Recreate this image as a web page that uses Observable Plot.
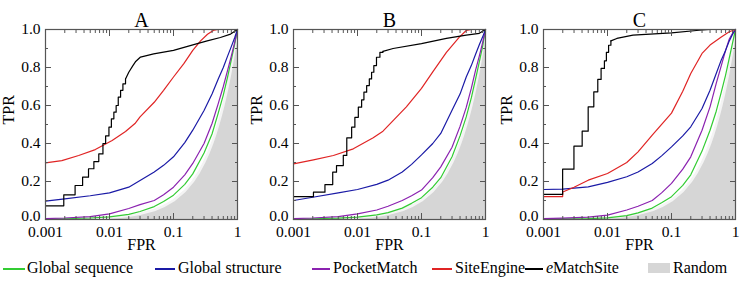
<!DOCTYPE html>
<html><head><meta charset="utf-8">
<script src="https://cdn.jsdelivr.net/npm/d3@7"></script>
<script src="https://cdn.jsdelivr.net/npm/@observablehq/plot@0.6"></script>
<style>
body{margin:0;background:#fff;}
#wrap{position:relative;width:743px;height:283px;font-family:"Liberation Serif","Times New Roman",serif;color:#000;}
.panel{position:absolute;top:0;}
.leg{position:absolute;top:258px;height:20px;font-size:16px;line-height:20px;white-space:nowrap;}
.sw{position:absolute;top:268px;height:1.5px;}
.box{position:absolute;top:263px;width:22px;height:10px;background:#d4d4d4;}
</style></head>
<body><div id="wrap"></div>
<script>
// ---------- labels & ticks ----------
const panelTitles = ["A", "B", "C"];
const xTickValues = [0.001, 0.01, 0.1, 1];
const xTickLabels = ["0.001", "0.01", "0.1", "1"];
const xMinorTicks = [0.002,0.003,0.004,0.005,0.006,0.007,0.008,0.009,0.02,0.03,0.04,0.05,0.06,0.07,0.08,0.09,0.2,0.3,0.4,0.5,0.6,0.7,0.8,0.9];
const yTickValues = [0, 0.2, 0.4, 0.6, 0.8, 1];
const yTickLabels = ["0.0", "0.2", "0.4", "0.6", "0.8", "1.0"];
const yMinorTicks = [0.1, 0.3, 0.5, 0.7, 0.9];
const seriesNames = ["Global sequence", "Global structure", "PocketMatch", "SiteEngine", "eMatchSite", "Random"];
const seriesColors = ["#33cc33", "#1a1aa6", "#8b22b0", "#e02424", "#000000", "#d6d6d6"];

// ---------- random baseline (TPR = FPR) ----------
const randomFpr = [0.001,0.002,0.003,0.005,0.007,0.01,0.015,0.02,0.03,0.05,0.07,0.1,0.15,0.2,0.25,0.3,0.35,0.4,0.45,0.5,0.55,0.6,0.65,0.7,0.75,0.8,0.85,0.9,0.95,1];
const randomTpr = [0.001,0.002,0.003,0.005,0.007,0.01,0.015,0.02,0.03,0.05,0.07,0.1,0.15,0.2,0.25,0.3,0.35,0.4,0.45,0.5,0.55,0.6,0.65,0.7,0.75,0.8,0.85,0.9,0.95,1];

// ---------- smooth curves: shared FPR grid ----------
const smoothFpr = [0.001,0.002,0.005,0.01,0.02,0.03,0.05,0.07,0.1,0.15,0.2,0.3,0.4,0.5,0.6,0.7,0.8,0.9,1];

// Panel A
const aSeqTpr    = [0.002,0.004,0.008,0.014,0.027,0.042,0.068,0.095,0.128,0.185,0.24,0.35,0.45,0.56,0.655,0.75,0.84,0.92,1];
const aPocketTpr = [0.005,0.008,0.015,0.03,0.058,0.078,0.10,0.13,0.17,0.235,0.295,0.40,0.505,0.61,0.70,0.785,0.86,0.93,1];
const aStructTpr = [0.097,0.109,0.125,0.14,0.17,0.205,0.25,0.285,0.33,0.405,0.47,0.574,0.66,0.74,0.80,0.86,0.91,0.955,1];
const aSiteFpr   = [0.001,0.0018,0.0033,0.006,0.011,0.0178,0.025,0.03,0.05,0.07,0.1,0.145,0.2,0.265,0.34,0.43,0.5,1];
const aSiteTpr   = [0.298,0.31,0.337,0.368,0.416,0.463,0.505,0.54,0.617,0.68,0.75,0.82,0.89,0.94,0.975,0.997,1,1];
const aEmsStepFpr = [0.001,0.00193,0.0029,0.0038,0.0047,0.0057,0.0068,0.0079,0.0087,0.0098,0.0107,0.0117,0.0127,0.0137,0.0149,0.0162,0.0178];
const aEmsStepTpr = [0.072,0.13,0.179,0.223,0.267,0.305,0.345,0.40,0.44,0.486,0.53,0.565,0.60,0.644,0.68,0.714,0.74];
const aEmsTailFpr = [0.0178,0.02,0.0232,0.0254,0.0305,0.049,0.1,0.207,0.336,0.54,0.78,1];
const aEmsTailTpr = [0.74,0.775,0.81,0.83,0.855,0.872,0.89,0.92,0.94,0.958,0.976,1];

// Panel B
const bSeqTpr    = [0.002,0.004,0.007,0.012,0.024,0.036,0.06,0.085,0.115,0.17,0.22,0.33,0.44,0.54,0.64,0.74,0.83,0.91,1];
const bPocketTpr = [0.005,0.008,0.015,0.03,0.05,0.07,0.10,0.125,0.155,0.22,0.277,0.38,0.49,0.59,0.69,0.786,0.86,0.93,1];
const bStructTpr = [0.10,0.117,0.14,0.158,0.185,0.207,0.25,0.29,0.34,0.40,0.453,0.575,0.66,0.75,0.81,0.87,0.92,0.96,1];
const bSiteFpr   = [0.001,0.00205,0.0042,0.0086,0.0176,0.025,0.036,0.058,0.1,0.15,0.245,0.39,0.5,0.6,1];
const bSiteTpr   = [0.293,0.314,0.337,0.372,0.43,0.465,0.52,0.593,0.69,0.777,0.88,0.96,0.995,1,1];
const bEmsStepFpr = [0.001,0.00205,0.0031,0.0041,0.0047,0.006,0.0068,0.0081,0.0091,0.0103,0.0116,0.0126,0.0139,0.0153,0.0166,0.018,0.0198,0.0224,0.025];
const bEmsStepTpr = [0.12,0.144,0.184,0.249,0.284,0.337,0.43,0.486,0.538,0.591,0.63,0.67,0.705,0.74,0.775,0.81,0.854,0.88,0.885];
const bEmsTailFpr = [0.025,0.036,0.1,0.245,0.5,0.8,1];
const bEmsTailTpr = [0.885,0.90,0.926,0.953,0.97,0.98,1];

// Panel C
const cSeqTpr    = [0.002,0.003,0.005,0.009,0.02,0.035,0.06,0.088,0.12,0.18,0.235,0.36,0.47,0.57,0.67,0.76,0.85,0.93,1];
const cPocketTpr = [0.005,0.007,0.012,0.023,0.05,0.07,0.10,0.14,0.19,0.265,0.33,0.47,0.593,0.716,0.81,0.89,0.95,0.98,1];
const cStructTpr = [0.158,0.16,0.172,0.195,0.225,0.25,0.295,0.335,0.382,0.44,0.488,0.584,0.68,0.768,0.84,0.89,0.94,0.975,1];
const cSiteFpr   = [0.001,0.00199,0.002,0.003,0.005,0.01,0.02,0.03,0.05,0.1,0.15,0.2,0.3,0.4,0.6,0.8,1];
const cSiteTpr   = [0.12,0.12,0.145,0.17,0.207,0.242,0.30,0.356,0.444,0.56,0.675,0.768,0.874,0.918,0.96,0.988,1];
const cEmsStepFpr = [0.001,0.00199,0.00299,0.00402,0.00499,0.00611,0.00705,0.00794,0.00895,0.00961,0.0104,0.0113];
const cEmsStepTpr = [0.132,0.265,0.386,0.465,0.593,0.672,0.737,0.795,0.835,0.88,0.917,0.94];
const cEmsTailFpr = [0.0113,0.014,0.025,0.1,0.27,0.4,1];
const cEmsTailTpr = [0.94,0.953,0.97,0.982,0.996,1,1];

const panels = [
  {title: panelTitles[0], left: 0, width: 247, seq: aSeqTpr, pocket: aPocketTpr, struct: aStructTpr, siteF: aSiteFpr, siteT: aSiteTpr, stepF: aEmsStepFpr, stepT: aEmsStepTpr, tailF: aEmsTailFpr, tailT: aEmsTailTpr},
  {title: panelTitles[1], left: 248, width: 247, seq: bSeqTpr, pocket: bPocketTpr, struct: bStructTpr, siteF: bSiteFpr, siteT: bSiteTpr, stepF: bEmsStepFpr, stepT: bEmsStepTpr, tailF: bEmsTailFpr, tailT: bEmsTailTpr},
  {title: panelTitles[2], left: 498, width: 245, seq: cSeqTpr, pocket: cPocketTpr, struct: cStructTpr, siteF: cSiteFpr, siteT: cSiteTpr, stepF: cEmsStepFpr, stepT: cEmsStepTpr, tailF: cEmsTailFpr, tailT: cEmsTailTpr}
];

const FONT = '"Liberation Serif","Times New Roman",serif';
const wrap = document.getElementById("wrap");
const sw = 1.2;
const yLabelFmt = d => yTickLabels[yTickValues.indexOf(d)];

for (const p of panels) {
  const chart = Plot.plot({
    width: p.width, height: 259,
    marginLeft: 45, marginRight: p.width - 237, marginTop: 29, marginBottom: 40,
    x: {type: "log", domain: [0.001, 1]},
    y: {domain: [0, 1]},
    style: {fontFamily: FONT, fontSize: "16px", color: "#000", background: "transparent", overflow: "visible"},
    marks: [
      Plot.areaY(randomFpr, {x: randomFpr, y: randomTpr, fill: seriesColors[5]}),
      Plot.line(randomFpr, {x: randomFpr, y: randomTpr, stroke: "#f4f4f4", strokeWidth: 2.5}),
      Plot.line(smoothFpr, {x: smoothFpr, y: p.seq, stroke: seriesColors[0], strokeWidth: sw}),
      Plot.line(smoothFpr, {x: smoothFpr, y: p.pocket, stroke: seriesColors[2], strokeWidth: sw}),
      Plot.line(smoothFpr, {x: smoothFpr, y: p.struct, stroke: seriesColors[1], strokeWidth: sw}),
      Plot.line(p.siteF, {x: p.siteF, y: p.siteT, stroke: seriesColors[3], strokeWidth: sw}),
      Plot.line(p.stepF, {x: p.stepF, y: p.stepT, stroke: seriesColors[4], strokeWidth: sw, curve: "step-after"}),
      Plot.line(p.tailF, {x: p.tailF, y: p.tailT, stroke: seriesColors[4], strokeWidth: sw}),
      Plot.frame({stroke: "#555", strokeWidth: 1.2}),
      // inward ticks
      Plot.axisX({anchor: "bottom", ticks: xTickValues, tickSize: -6, tickFormat: () => "", label: null, stroke: "#555"}),
      Plot.axisX({anchor: "bottom", ticks: xMinorTicks, tickSize: -3, tickFormat: () => "", label: null, stroke: "#555"}),
      Plot.axisX({anchor: "top", ticks: xTickValues, tickSize: -6, tickFormat: () => "", label: null, stroke: "#555"}),
      Plot.axisX({anchor: "top", ticks: xMinorTicks, tickSize: -3, tickFormat: () => "", label: null, stroke: "#555"}),
      Plot.axisY({anchor: "left", ticks: yTickValues, tickSize: -6, tickFormat: () => "", label: null, stroke: "#555"}),
      Plot.axisY({anchor: "left", ticks: yMinorTicks, tickSize: -3, tickFormat: () => "", label: null, stroke: "#555"}),
      Plot.axisY({anchor: "right", ticks: yTickValues, tickSize: -6, tickFormat: () => "", label: null, stroke: "#555"}),
      Plot.axisY({anchor: "right", ticks: yMinorTicks, tickSize: -3, tickFormat: () => "", label: null, stroke: "#555"}),
      // tick labels
      Plot.axisX({anchor: "bottom", ticks: xTickValues, tickSize: 0, tickPadding: 6, fontSize: 15.5, label: null,
        tickFormat: d => xTickLabels[xTickValues.indexOf(d)]}),
      Plot.axisY({anchor: "left", ticks: yTickValues.slice(1), tickSize: 0, tickPadding: 5, fontSize: 15.5, label: null,
        tickFormat: yLabelFmt}),
      Plot.axisY({anchor: "left", ticks: yTickValues.slice(0, 1), tickSize: 0, tickPadding: 5, fontSize: 15.5, label: null,
        dy: -3, tickFormat: yLabelFmt}),
      // titles
      Plot.text([p.title], {frameAnchor: "top", dy: -17, text: d => d, fontSize: 20}),
      Plot.text(["TPR"], {frameAnchor: "left", dx: -37, rotate: -90, text: d => d, fontSize: 16}),
      Plot.text(["FPR"], {frameAnchor: "bottom", dy: 30, text: d => d, fontSize: 16})
    ]
  });
  chart.classList.add("panel");
  chart.style.left = p.left + "px";
  chart.style.position = "absolute";
  wrap.appendChild(chart);
}

// ---------- legend ----------
const legendLayout = [
  {line: [3, 25], text: 27},
  {line: [155, 175], text: 178},
  {line: [312, 330], text: 333},
  {line: [432, 452], text: 455},
  {line: [525, 543], text: 546},
  {box: 648, text: 673}
];
legendLayout.forEach((l, i) => {
  if (l.box !== undefined) {
    const b = document.createElement("div");
    b.className = "box"; b.style.left = l.box + "px"; b.style.background = seriesColors[i];
    wrap.appendChild(b);
  } else {
    const s = document.createElement("div");
    s.className = "sw"; s.style.left = l.line[0] + "px"; s.style.width = (l.line[1] - l.line[0]) + "px";
    s.style.background = seriesColors[i];
    wrap.appendChild(s);
  }
  const t = document.createElement("div");
  t.className = "leg"; t.style.left = l.text + "px";
  const name = seriesNames[i];
  if (name === "eMatchSite") t.innerHTML = "<i>e</i>MatchSite"; else t.textContent = name;
  wrap.appendChild(t);
});
</script>
</body></html>
